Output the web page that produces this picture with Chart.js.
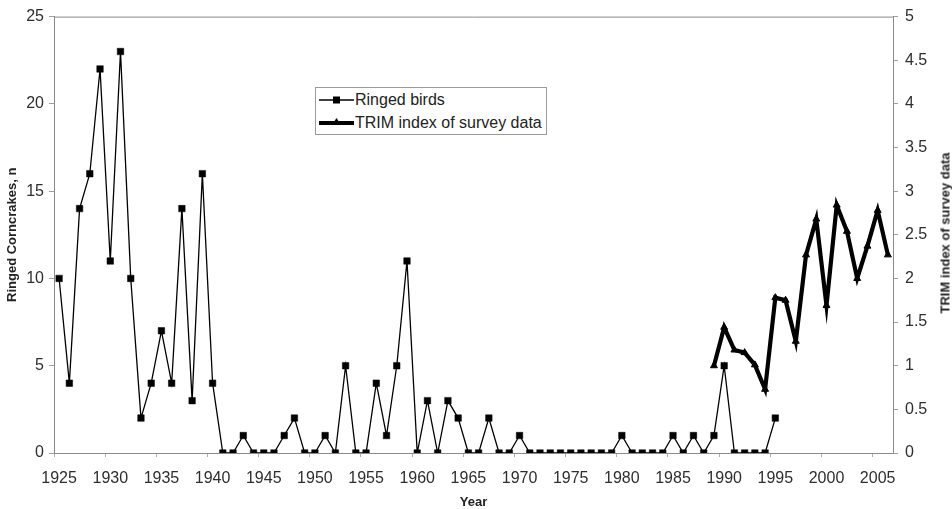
<!DOCTYPE html>
<html>
<head>
<meta charset="utf-8">
<script src="https://cdn.jsdelivr.net/npm/chart.js@4.4.1/dist/chart.umd.min.js"></script>
<style>
  html, body { margin: 0; padding: 0; background: #fff; }
  #wrap { position: relative; width: 952px; height: 509px; font-family: "Liberation Sans", Arial, sans-serif; }
  #legend { position: absolute; left: 315px; top: 87px; width: 230px; height: 46px; border: 1px solid #9a9a9a; background: #fff; color: #222; font-size: 16px; }
  .row { position: absolute; left: 0; height: 20px; line-height: 20px; white-space: nowrap; }
  .row svg { position: absolute; left: 2px; top: 0; }
  .row span { position: absolute; left: 39px; top: 0; }
  #rtitle { position: absolute; left: 945px; top: 233px; transform: translate(-50%, -50%) rotate(-90deg); font-weight: bold; font-size: 13px; color: #222; white-space: nowrap; }
</style>
</head>
<body>
<div id="wrap">
  <canvas id="c" width="952" height="509"></canvas>
  <div id="legend">
    <div class="row" style="top:2px">
      <svg width="38" height="20"><line x1="1" y1="10" x2="36" y2="10" stroke="#000" stroke-width="1.3"/><rect x="15" y="6.5" width="7" height="7" fill="#000"/></svg>
      <span>Ringed birds</span>
    </div>
    <div class="row" style="top:25px">
      <svg width="38" height="20"><line x1="1" y1="10" x2="36" y2="10" stroke="#000" stroke-width="4"/><polygon points="18.5,5 23,12 14,12" fill="#000"/></svg>
      <span>TRIM index of survey data</span>
    </div>
  </div>
  <div id="rtitle">TRIM index of survey data</div>
</div>
<script>
const years = [1925,1926,1927,1928,1929,1930,1931,1932,1933,1934,1935,1936,1937,1938,1939,1940,
  1941,1942,1943,1944,1945,1946,1947,1948,1949,1950,1951,1952,1953,1954,1955,1956,1957,1958,1959,1960,
  1961,1962,1963,1964,1965,1966,1967,1968,1969,1970,1971,1972,1973,1974,1975,1976,1977,1978,1979,1980,
  1981,1982,1983,1984,1985,1986,1987,1988,1989,1990,1991,1992,1993,1994,1995,1996,1997,1998,1999,2000,
  2001,2002,2003,2004,2005,2006];

// Ringed birds, 1925..1995
const ringedStart = 1925;
const ringedBirds = [10,4,14,16,22,11,23,10,2,4,7,4,14,3,16,4,
  0,0,1,0,0,0,1,2,0,0,1,0,5,0,0,4,1,5,11,0,
  3,0,3,2,0,0,2,0,0,1,0,0,0,0,0,0,0,0,0,1,
  0,0,0,0,1,0,1,0,1,5,0,0,0,0,2];

// TRIM index of survey data, 1989..2006
const trimStart = 1989;
const trimIndex = [1.0,1.44,1.18,1.15,1.01,0.73,1.78,1.75,1.28,2.27,2.68,1.69,2.84,2.54,2.0,2.37,2.78,2.27];

const leftTicks = [0,5,10,15,20,25];
const rightTicks = [0,0.5,1,1.5,2,2.5,3,3.5,4,4.5,5];

const labels = years.map(String);
const ringedData = ringedBirds.map((v, i) => ({ x: String(ringedStart + i), y: v }));
const trimData = trimIndex.map((v, i) => ({ x: String(trimStart + i), y: v }));

const textColor = '#2e2e2e';
const axisColor = '#8a8a8a';
const font = { family: '"Liberation Sans", Arial, sans-serif', size: 16 };

const frame = {
  id: 'frame',
  afterDatasetsDraw(chart) {
    const { ctx, chartArea } = chart;
    ctx.save();
    ctx.strokeStyle = axisColor;
    ctx.lineWidth = 1;
    ctx.beginPath();
    ctx.moveTo(chartArea.left, chartArea.top + 0.5);
    ctx.lineTo(chartArea.right, chartArea.top + 0.5);
    ctx.stroke();
    ctx.restore();
  }
};

new Chart(document.getElementById('c'), {
  type: 'line',
  data: {
    labels: labels,
    datasets: [
      {
        label: 'Ringed birds',
        data: ringedData,
        yAxisID: 'y',
        borderColor: '#000',
        backgroundColor: '#000',
        borderWidth: 1.3,
        pointStyle: 'rect',
        pointRadius: 4.6,
        pointBorderWidth: 0.5,
        pointBackgroundColor: '#000',
        pointBorderColor: '#000',
        tension: 0,
        order: 2
      },
      {
        label: 'TRIM index of survey data',
        data: trimData,
        yAxisID: 'y1',
        borderColor: '#000',
        backgroundColor: '#000',
        borderWidth: 4.2,
        pointStyle: 'triangle',
        pointRadius: 4,
        pointBorderWidth: 1,
        pointBackgroundColor: '#000',
        pointBorderColor: '#000',
        tension: 0,
        order: 1
      }
    ]
  },
  options: {
    responsive: false,
    animation: false,
    devicePixelRatio: 1,
    layout: { padding: { top: 15, left: 0, right: 0, bottom: 0 } },
    plugins: { legend: { display: false }, tooltip: { enabled: false } },
    scales: {
      x: {
        type: 'category',
        offset: true,
        afterFit(s) { s.height = 56; },
        grid: {
          offset: true,
          drawOnChartArea: false,
          drawTicks: true,
          tickLength: 4,
          tickColor: (ctx) => (years[ctx.index] !== undefined && years[ctx.index] % 5 === 0) ? '#b0b0b0' : 'rgba(0,0,0,0)'
        },
        border: { color: axisColor, width: 1 },
        ticks: {
          autoSkip: false,
          maxRotation: 0,
          minRotation: 0,
          padding: 12,
          color: textColor,
          font: font,
          callback: (v, i) => (years[i] % 5 === 0 ? String(years[i]) : '')
        },
        title: {
          display: true,
          text: 'Year',
          color: '#222',
          font: { family: font.family, size: 13, weight: 'bold' },
          padding: { top: 0, bottom: -1 }
        }
      },
      y: {
        position: 'left',
        min: 0,
        max: 25,
        afterFit(s) { s.width = 54; },
        afterBuildTicks(s) { s.ticks = leftTicks.map(v => ({ value: v })); },
        grid: { drawOnChartArea: false, drawTicks: true, tickLength: 5, tickColor: '#a0a0a0' },
        border: { color: axisColor, width: 1 },
        ticks: { padding: 5, color: textColor, font: font },
        title: {
          display: true,
          text: 'Ringed Corncrakes, n',
          color: '#222',
          font: { family: font.family, size: 13, weight: 'bold' },
          padding: { top: 5, bottom: 0 }
        }
      },
      y1: {
        position: 'right',
        min: 0,
        max: 5,
        afterFit(s) { s.width = 59; },
        afterBuildTicks(s) { s.ticks = rightTicks.map(v => ({ value: v })); },
        grid: { drawOnChartArea: false, drawTicks: true, tickLength: 5, tickColor: '#a0a0a0' },
        border: { color: axisColor, width: 1 },
        ticks: { padding: 7, color: textColor, font: font, callback: (v) => String(v) },
        title: { display: false }
      }
    }
  },
  plugins: [frame]
});
</script>
</body>
</html>
